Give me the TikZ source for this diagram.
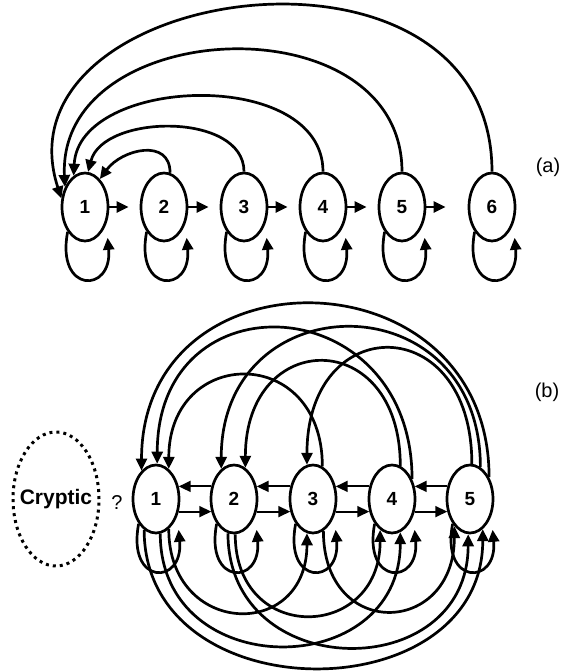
\documentclass[tikz,border=0pt]{standalone}
\usepackage{fontspec}
\setmainfont{Liberation Sans}
\usetikzlibrary{arrows.meta,shapes.geometric}
\begin{document}
\begin{tikzpicture}[x=0.5pt,y=-0.5pt,
  stnode/.style={ellipse,draw,line width=1.35pt,fill=white,minimum width=23pt,
    minimum height=34pt,inner sep=0pt,font=\fontsize{9.5}{11}\selectfont\bfseries},
  link/.style={line width=1.35pt,-{Triangle[length=6pt,width=5.5pt]}},
  thinlink/.style={line width=1pt,-{Triangle[length=6pt,width=5.5pt]}},
  lbl/.style={font=\fontsize{10}{12}\selectfont},
  cryptic/.style={ellipse,draw,dotted,line width=1.5pt,minimum width=43pt,
    minimum height=67pt,inner sep=0pt},
  crtext/.style={font=\fontsize{10.5}{12}\selectfont\bfseries,inner sep=0pt}]
\fill[white] (0,0) rectangle (570,671);
\useasboundingbox (0,0) rectangle (570,671);

% ---------- chain (a) ----------
\foreach \i/\x in {1/85,2/164,3/244,4/323,5/402,6/492}
  \node[stnode] (a\i) at (\x,207) {\i};
\foreach \i/\j in {1/2,2/3,3/4,4/5}
  \draw[link,shorten >=5.5pt] (a\i) -- (a\j);
\draw[link,shorten >=11pt] (a5) -- (a6);
% self loops
\foreach \i in {1,...,6}
  \draw[link] (a\i.-125) .. controls +(-12,62) and +(5,56) .. ++(40,6);
% back arcs into state 1
\draw[link] (a2.80) .. controls +(0,-35) and +(22,-30) .. (a1.62);
\draw[link] (a3.north) .. controls +(0,-60) and +(15,-58) .. (a1.85);
\draw[link] (a4.north) .. controls +(0,-105) and +(5,-100) .. (a1.110);
\draw[link] (a5.north) .. controls +(0,-172) and +(-8,-172) .. (a1.135);
\draw[link] (a6.north) .. controls +(0,-260) and +(-70,-215) .. (a1.160);
\node[lbl] (la) at (548,167) {(a)};

% ---------- chain (b) ----------
\node[cryptic] (cr) at (56,499) {};
\node[crtext] (crt) at (cr) {Cryptic};
\node[lbl] (q) at (117,503) {?};
\foreach \i/\x in {1/156,2/234,3/313,4/392,5/470}
  \node[stnode] (b\i) at (\x,499) {\i};
\foreach \i/\j in {1/2,2/3,3/4,4/5} {
  \draw[thinlink] (b\j.151) -- (b\i.29);
  \draw[thinlink] (b\i.-29) -- (b\j.-151);
}
% self loops
\foreach \i in {1,...,5}
  \draw[link] (b\i.-125) .. controls +(-12,62) and +(5,56) .. ++(40,6);
% backward arcs over the top
\draw[link] (b3.74) .. controls +(0,-123) and +(0,-123) .. (b1.67);
\draw[link] (b4.45) .. controls +(0,-190) and +(0,-190) .. (b1.88);
\draw[link] (b4.76) .. controls +(0,-140) and +(0,-140) .. (b2.70);
\draw[link] (b5.49) .. controls +(0,-226) and +(0,-226) .. (b1.117);
\draw[link] (b5.72) .. controls +(0,-187) and +(0,-187) .. (b2.113);
\draw[link] (b5.87) .. controls +(0,-154) and +(0,-154) .. (b3.100);
% forward arcs underneath
\draw[link] (b1.-67) .. controls +(0,108) and +(0,108) .. (b3.-100);
\draw[link] (b1.-83) .. controls +(0,150) and +(0,150) .. (b4.-76);
\draw[link] (b1.-111) .. controls +(0,184) and +(0,184) .. (b5.-67);
\draw[link] (b2.-88) .. controls +(0,111) and +(0,111) .. (b4.-111);
\draw[link] (b2.-100) .. controls +(0,151) and +(0,151) .. (b5.-93);
\draw[link] (b3.-72) .. controls +(0,110) and +(0,110) .. (b5.-120);
\node[lbl] (lb) at (547,392) {(b)};
\end{tikzpicture}
\end{document}
